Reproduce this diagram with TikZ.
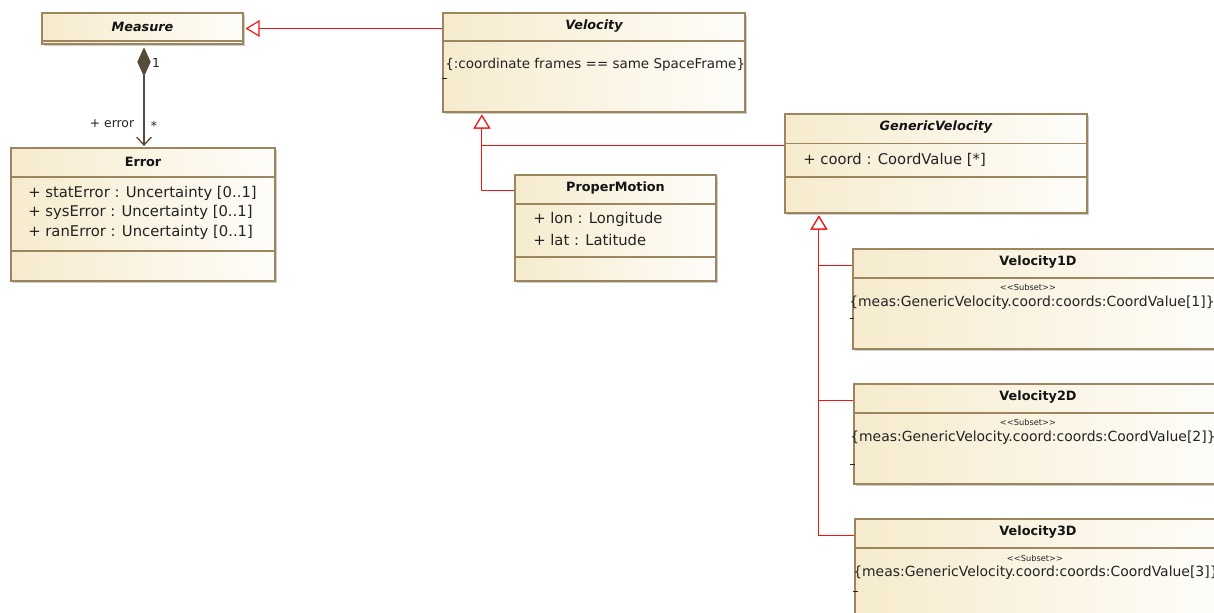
\documentclass[tikz,border=0pt]{standalone}
\usepackage{fontspec}
\setmainfont{DejaVu Sans}
\usetikzlibrary{arrows.meta,calc,fit,shadows}

\definecolor{classfill}{RGB}{246,235,205}
\definecolor{classline}{RGB}{155,134,94}
\definecolor{genred}{RGB}{240,20,20}
\definecolor{assoc}{RGB}{88,74,58}
\definecolor{txt}{RGB}{35,35,35}
\definecolor{titletxt}{RGB}{20,20,20}

\tikzset{
  classbox/.style={draw=classline, line width=0.9pt,
    left color=classfill, right color=classfill!10, inner sep=0pt,
    drop shadow={shadow xshift=1.6pt, shadow yshift=-1.6pt, fill=black!50, opacity=0.4}},
  divider/.style={draw=classline, line width=0.8pt},
  classname/.style={font=\fontsize{9.6}{11}\selectfont\bfseries, text=titletxt, inner sep=0pt},
  absname/.style={classname, font=\fontsize{9.6}{11}\selectfont\bfseries\itshape},
  attr/.style={font=\fontsize{11.1}{13}\selectfont, text=txt, anchor=west, inner sep=0pt},
  constr/.style={font=\fontsize{10.1}{12}\selectfont, text=txt, anchor=west, inner sep=0pt},
  subsetconstr/.style={constr, font=\fontsize{10.45}{12}\selectfont},
  stereo/.style={font=\fontsize{6.2}{7}\selectfont, text=txt, inner sep=0pt},
  endlbl/.style={font=\fontsize{9.3}{11}\selectfont, text=txt, inner sep=0pt},
  tick/.style={draw=txt, line width=0.5pt},
  gen/.style={draw=genred, color=genred, line width=0.85pt,
    -{Triangle[open, length=10.5pt, width=12.5pt, fill=white]}, shorten >=1.5pt},
  compo/.style={draw=assoc, line width=1pt,
    {Diamond[length=22pt, width=10pt, fill=assoc]}-{Straight Barb[length=6pt, width=11pt]},
    shorten <=2pt, shorten >=1pt},
}

\begin{document}
\begin{tikzpicture}[x=0.75pt, y=-0.75pt]
\useasboundingbox (0,0) rectangle (1214,613);
\clip (0,0) rectangle (1214,613);

% ---- Measure ----
\node[classbox, fit={(42,13) (243,44)}] (measure) {};
\draw[divider] (42,41) -- (243,41);
\node[absname] (measureT) at (142.5,27) {Measure};

% ---- Error ----
\node[classbox, fit={(11,148) (275,281)}] (error) {};
\draw[divider] (11,177) -- (275,177);
\draw[divider] (11,251) -- (275,251);
\node[classname] (errorT) at (143,161.5) {Error};
\node[attr] (errA1) at (28,193) {+ statError : Uncertainty [0..1]};
\node[attr] (errA2) at (28,212.5) {+ sysError : Uncertainty [0..1]};
\node[attr] (errA3) at (28,232) {+ ranError : Uncertainty [0..1]};

% ---- Velocity ----
\node[classbox, fit={(443,13) (745,112)}] (velocity) {};
\draw[divider] (443,41) -- (745,41);
\node[absname] (velocityT) at (594,26) {Velocity};
\node[constr] (velocityC) at (445,65) {\{:coordinate frames == same SpaceFrame\}};
\draw[tick] (442,78.5) -- (447,78.5);

% ---- ProperMotion ----
\node[classbox, fit={(515,175) (716,281)}] (pm) {};
\draw[divider] (515,204) -- (716,204);
\draw[divider] (515,257) -- (716,257);
\node[classname] (pmT) at (615.5,188) {ProperMotion};
\node[attr] (pmA1) at (533,219.5) {+ lon : Longitude};
\node[attr] (pmA2) at (533,239.5) {+ lat : Latitude};

% ---- GenericVelocity ----
\node[classbox, fit={(785,114) (1087,213)}] (gv) {};
\draw[divider] (785,143.5) -- (1087,143.5);
\draw[divider] (785,177) -- (1087,177);
\node[absname] (gvT) at (936,127) {GenericVelocity};
\node[attr] (gvA1) at (803,160) {+ coord : CoordValue [*]};

% ---- Velocity1D ----
\node[classbox, fit={(853,249) (1226,349)}] (v1d) {};
\draw[divider] (853,278) -- (1226,278);
\node[classname] (v1dT) at (1038,262) {Velocity1D};
\node[stereo] (v1dS) at (1028,287.5) {{<}{<}Subset{>}{>}};
\node[subsetconstr] (v1dC) at (849,303) {\{meas:GenericVelocity.coord:coords:CoordValue[1]\}};
\draw[tick] (850,318.5) -- (854,318.5);

% ---- Velocity2D ----
\node[classbox, fit={(854,384) (1226,484)}] (v2d) {};
\draw[divider] (854,413) -- (1226,413);
\node[classname] (v2dT) at (1038,397) {Velocity2D};
\node[stereo] (v2dS) at (1028,422.5) {{<}{<}Subset{>}{>}};
\node[subsetconstr] (v2dC) at (850,438) {\{meas:GenericVelocity.coord:coords:CoordValue[2]\}};
\draw[tick] (850,464) -- (855,464);

% ---- Velocity3D ----
\node[classbox, fit={(855,519) (1226,640)}] (v3d) {};
\draw[divider] (855,548) -- (1226,548);
\node[classname] (v3dT) at (1038,532) {Velocity3D};
\node[stereo] (v3dS) at (1035,558) {{<}{<}Subset{>}{>}};
\node[subsetconstr] (v3dC) at (853,573) {\{meas:GenericVelocity.coord:coords:CoordValue[3]\}};
\draw[tick] (853,591) -- (858,591);

% ---- Velocity specialises Measure ----
\draw[gen] (velocity.west |- measure.east) -- (measure.east);

% ---- Measure owns its errors ----
\draw[compo] ($(measure.south)+(1.5,0)$) -- ($(measure.south |- error.north)+(1.5,0)$);
\node[endlbl] (multOne) at (156,63) {1};
\node[endlbl] (roleErr) at (112,124) {+ error};
\node[endlbl] (multMany) at (154,126) {*};

% ---- ProperMotion and GenericVelocity specialise Velocity (shared arrowhead) ----
\coordinate (vtap) at ($(velocity.south west)+(39.5,0)$);
\coordinate (pmport) at ($(pm.north west)+(0,16.5)$);
\coordinate (gvport) at ($(gv.north west)+(0,32.5)$);
\draw[gen] (gvport) -| (vtap);
\draw[gen] (pmport) -| (vtap);

% ---- Velocity1D/2D/3D specialise GenericVelocity (shared arrowhead) ----
\coordinate (gtap) at ($(gv.south west)+(34.5,0)$);
\coordinate (v1port) at ($(v1d.north west)+(0,17.5)$);
\coordinate (v2port) at ($(v2d.north west)+(0,17.5)$);
\coordinate (v3port) at ($(v3d.north west)+(0,17.5)$);
\draw[gen] (v1port) -| (gtap);
\draw[gen] (v2port) -| (gtap);
\draw[gen] (v3port) -| (gtap);
\end{tikzpicture}
\end{document}
